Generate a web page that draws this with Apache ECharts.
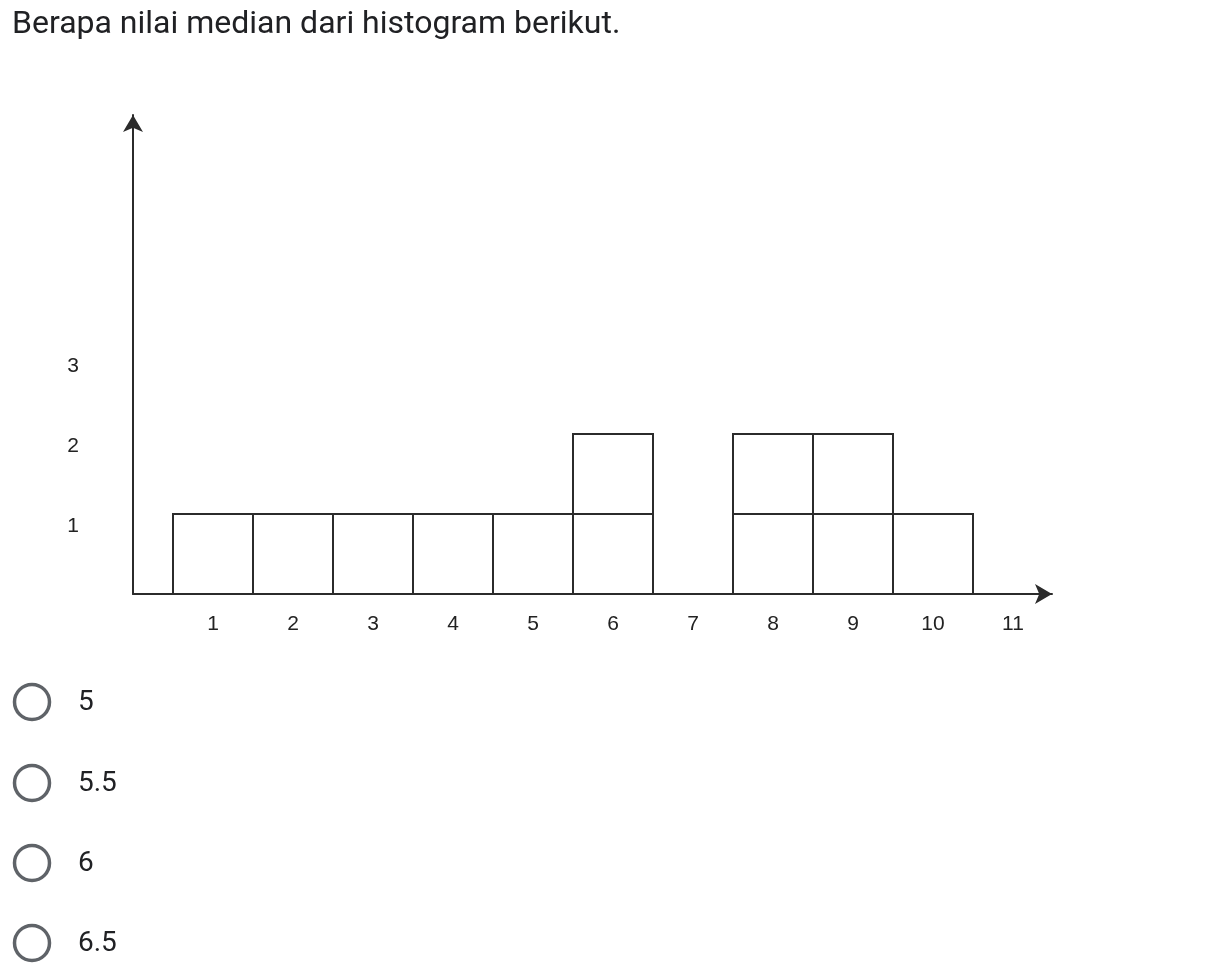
<!DOCTYPE html>
<html>
<head>
<meta charset="utf-8">
<script src="https://cdn.jsdelivr.net/npm/echarts@6/dist/echarts.min.js"></script>
<style>
  html, body { margin: 0; padding: 0; background: #fff; }
  #chart { width: 1221px; height: 972px; }
</style>
</head>
<body>
<div id="chart"></div>
<script>
// ---- data ----
var questionText = 'Berapa nilai median dari histogram berikut.';
var xValues = [1, 2, 3, 4, 5, 6, 7, 8, 9, 10, 11];
var counts  = [1, 1, 1, 1, 1, 2, 0, 2, 2, 1, 0];
var xTickLabels = ['1', '2', '3', '4', '5', '6', '7', '8', '9', '10', '11'];
var yTickLabels = ['1', '2', '3'];
var choices = ['5', '5.5', '6', '6.5'];

var chart = echarts.init(document.getElementById('chart'), null, { renderer: 'canvas' });

var seriesData = xValues.map(function (x, i) { return [x, counts[i]]; });

var lineColor = '#2b2b2b';
var labelFont = 'Liberation Sans, Arial';
var graphics = [{
  type: 'text',
  x: 12,
  y: 25,
  style: {
    text: questionText,
    fontFamily: 'Roboto',
    fontSize: 32,
    fill: '#202124',
    textVerticalAlign: 'middle'
  }
}];
var choiceY = [702, 783, 863, 943];
choices.forEach(function (c, i) {
  graphics.push({
    type: 'circle',
    shape: { cx: 32, cy: choiceY[i], r: 17.5 },
    style: { fill: 'none', stroke: '#5f6368', lineWidth: 3.5 }
  });
  graphics.push({
    type: 'text',
    x: 78,
    y: choiceY[i] + 1,
    style: {
      text: c,
      fontFamily: 'Roboto',
      fontSize: 28,
      fill: '#202124',
      textVerticalAlign: 'middle'
    }
  });
});

chart.setOption({
  animation: false,
  backgroundColor: '#fff',
  graphic: graphics,
  grid: { left: 133, right: 169, top: 115, bottom: 378, containLabel: false },
  xAxis: {
    type: 'value',
    min: 0,
    max: 11.4875,
    interval: 1,
    splitLine: { show: false },
    axisTick: { show: false },
    axisLine: {
      show: true,
      symbol: ['none', 'arrow'],
      symbolSize: [15, 17],
      lineStyle: { color: lineColor, width: 2 }
    },
    axisLabel: {
      show: true,
      margin: 20,
      showMaxLabel: false,
      fontFamily: labelFont,
      fontSize: 21,
      color: '#222',
      formatter: function (v) {
        var idx = xValues.indexOf(v);
        return idx >= 0 ? xTickLabels[idx] : '';
      }
    }
  },
  yAxis: {
    type: 'value',
    min: 0,
    max: 5.9875,
    interval: 1,
    splitLine: { show: false },
    axisTick: { show: false },
    axisLine: {
      show: true,
      symbol: ['none', 'arrow'],
      symbolSize: [15, 17],
      lineStyle: { color: lineColor, width: 2 }
    },
    axisLabel: {
      show: true,
      margin: 54,
      showMaxLabel: false,
      fontFamily: labelFont,
      fontSize: 21,
      color: '#222',
      verticalAlign: 'top',
      lineHeight: 24,
      formatter: function (v) {
        var idx = v - 1;
        return (idx >= 0 && idx < yTickLabels.length && v === Math.round(v)) ? yTickLabels[idx] : '';
      }
    }
  },
  series: [{
    type: 'custom',
    data: seriesData,
    encode: { x: 0, y: 1 },
    clip: false,
    renderItem: function (params, api) {
      var x = api.value(0);
      var n = api.value(1);
      var children = [];
      for (var k = 0; k < n; k++) {
        var p0 = api.coord([x - 0.5, k + 1]);
        var p1 = api.coord([x + 0.5, k]);
        children.push({
          type: 'rect',
          shape: { x: p0[0], y: p0[1], width: p1[0] - p0[0], height: p1[1] - p0[1] },
          style: { fill: '#fff', stroke: lineColor, lineWidth: 2 }
        });
      }
      return { type: 'group', children: children };
    }
  }]
});
</script>
</body>
</html>
